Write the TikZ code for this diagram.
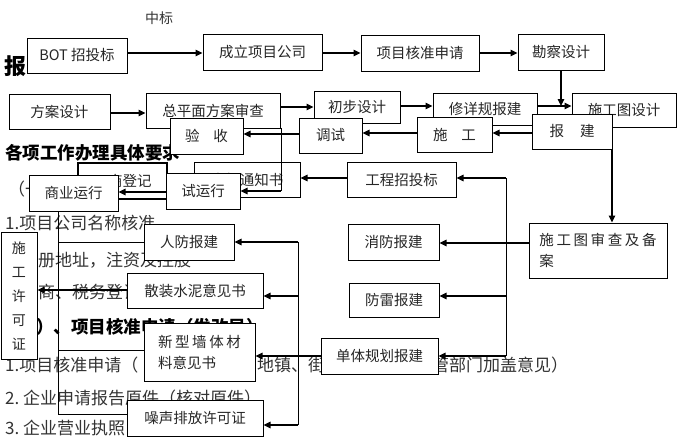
\documentclass[tikz,border=0pt]{standalone}
\usepackage{fontspec}
\setmainfont{Noto Sans CJK SC}
\usetikzlibrary{arrows.meta}
\newcommand\myg{\hspace{2.6pt}}
\tikzset{
  box/.style={draw=black, line width=1pt, fill=white, inner sep=0pt, text=black!85,
    font=\fontsize{14.5}{17}\selectfont, anchor=center},
  arr/.style={line width=1.1pt, -{Triangle[length=7pt,width=6.5pt]}},
  ln/.style={line width=0.9pt},
  bg/.style={anchor=base west, inner sep=0pt, text=black!80, font=\fontsize{17}{17}\selectfont},
  bgb/.style={anchor=base west, inner sep=0pt, text=black, font=\fontsize{17.5}{17.5}\selectfont\bfseries},
}
\begin{document}
\begin{tikzpicture}[x=1pt,y=-1pt]
\useasboundingbox (0,0) rectangle (677,437);
\fill[white] (0,0) rectangle (677,437);

% background document text
\node[bg, font=\fontsize{14}{14}\selectfont] (t0) at (145,23) {中标};
\node[bgb, font=\fontsize{22}{22}\selectfont\bfseries] (t1) at (4,74) {报};
\node[bgb] (t2) at (5,159) {各项工作办理具体要求};
\node[bg] (t3) at (8,195) {（一};
\node[bg] (t4) at (5,229) {1.项目公司名称核准};
\node[bg] (t5) at (38,266) {册地址，注资及控股};
\node[bg] (t6) at (38,298) {商、税务登记};
\node[bgb] (t7) at (36,333) {）、项目核准申请（发改局）};
\node[bg] (t8) at (5,371) {1.项目核准申请（};
\node[bg] (t9) at (257,371) {地镇、街};
\node[bg] (t10) at (432,371) {管部门加盖意见）};
\node[bg] (t11) at (5,404) {2.\ 企业申请报告原件（核对原件）};
\node[bg] (t12) at (5,434) {3.\ 企业营业执照};

% boxes
\node[box, minimum width=100pt, minimum height=35pt] (bot) at (77,55.5) {BOT 招投标};
\node[box, minimum width=119pt, minimum height=36pt] (clgs) at (262.5,52) {成立项目公司};
\node[box, minimum width=118pt, minimum height=36pt] (hzsq) at (420,53) {项目核准申请};
\node[box, minimum width=86pt, minimum height=36pt] (kcsj) at (561,52) {勘察设计};
\node[box, minimum width=101pt, minimum height=35pt] (fasj) at (59.5,111.5) {方案设计};
\node[box, minimum width=134pt, minimum height=35pt] (zpm) at (213,110.5) {总平面方案审查};
\node[box, minimum width=86pt, minimum height=32pt] (cbsj) at (357,107) {初步设计};
\node[box, minimum width=104pt, minimum height=32pt] (xxg) at (485,109) {修详规报建};
\node[box, minimum width=104pt, minimum height=34pt] (sgtsj) at (624,110) {施工图设计};
\node[box, minimum width=73pt, minimum height=36pt] (ys) at (206.5,136) {验\hspace{14pt}收};
\node[box, minimum width=63pt, minimum height=35pt] (ts) at (330.5,135.5) {调试};
\node[box, minimum width=75pt, minimum height=35pt] (sg) at (454.5,134.5) {施\hspace{14pt}工};
\node[box, minimum width=80pt, minimum height=35pt] (bj) at (572,131.5) {报\hspace{16pt}建};
\node[box, line width=1.4pt, minimum width=89pt, minimum height=36pt] (dj) at (122.5,181) {工商登记};
\node[box, minimum width=106pt, minimum height=35pt] (tzs) at (247,179.5) {中标通知书};
\node[box, minimum width=109pt, minimum height=35pt] (gczb) at (401.5,179.5) {工程招投标};
\node[box, minimum width=74pt, minimum height=36pt] (syx) at (203,191) {试运行};
\node[box, minimum width=89pt, minimum height=36pt] (syyx) at (73.5,193) {商业运行};
\node[box, minimum width=91pt, minimum height=36pt] (xf) at (393.5,242) {消防报建};
\node[box, minimum width=138pt, minimum height=55pt, align=left,
      font=\fontsize{14.5}{21}\selectfont] (sgtsc) at (598,250.5)
      {施\myg 工\myg 图\myg 审\myg 查\myg 及\myg 备\\案};
\node[box, minimum width=90pt, minimum height=34pt] (fl) at (394,300) {防雷报建};
\node[box, minimum width=117pt, minimum height=36pt] (dtgh) at (379.5,356) {单体规划报建};
\node[box, minimum width=90pt, minimum height=36pt] (rf) at (189,242) {人防报建};
\node[box, minimum width=136pt, minimum height=35pt] (sz) at (195,290.5) {散装水泥意见书};
\node[box, minimum width=111pt, minimum height=58pt, align=left,
      font=\fontsize{14.5}{21}\selectfont] (xxqt) at (199.5,352)
      {新\myg 型\myg 墙\myg 体\myg 材\\料意见书};
\node[box, minimum width=136pt, minimum height=36pt] (zs) at (195,418) {噪声排放许可证};
\node[box, minimum width=36pt, minimum height=127pt, align=center,
      font=\fontsize{14}{24}\selectfont] (sgxkz) at (19,295.5) {施\\工\\许\\可\\证};

% top row
\draw[arr] (bot.east |- 0,53) -- (clgs.west |- 0,53);
\draw[arr] (clgs.east |- 0,53) -- (hzsq.west |- 0,53);
\draw[arr] (hzsq.east |- 0,53) -- (kcsj.west |- 0,53);
\coordinate (k1) at (561,106);
\draw[arr] (kcsj.south) -- (k1);
% second row
\draw[arr] (fasj.east |- 0,113) -- (zpm.west |- 0,113);
\draw[arr] (zpm.east |- 0,107) -- (cbsj.west |- 0,107);
\draw[arr] (cbsj.east |- 0,106) -- (xxg.west |- 0,106);
\draw[arr] (xxg.east |- 0,106) -- (sgtsj.west |- 0,106);
% third row
\draw[arr] (bj.west |- 0,133) -- (sg.east |- 0,133);
\draw[arr] (sg.west |- 0,133) -- (ts.east |- 0,133);
\draw[arr] (ts.west |- 0,134) -- (ys.east |- 0,134);
\coordinate (c1) at (281,128);
\coordinate (c2) at (281,191);
\draw[ln] (c1) -- (c2);
\draw[arr] (c2) -- (syx.east |- c2);
\draw[arr] (gczb.west |- 0,178) -- (tzs.east |- 0,178);
\draw[arr] (syx.west |- 0,192) -- (syyx.east |- 0,192);
% right side
\coordinate (b1) at (612,149);
\draw[arr] (b1) -- (b1 |- sgtsc.north);
\draw[arr] (sgtsc.west |- 0,243) -- (xf.east |- 0,243);
\coordinate (R1) at (506,178);
\coordinate (R2) at (506,296);
\coordinate (R3) at (506,356);
\draw[ln] (R1) -- (R3);
\draw[arr] (R1) -- (R1 -| gczb.east);
\draw[arr] (R2) -- (R2 -| fl.east);
\draw[arr] (R3) -- (R3 -| dtgh.east);
\draw[arr] (dtgh.west |- 0,356) -- (xxqt.east |- 0,356);
% middle vertical
\coordinate (M1) at (298,242);
\coordinate (M2) at (298,296);
\coordinate (M3) at (298,425);
\draw[ln] (M1) -- (M3);
\draw[arr] (M1) -- (M1 -| rf.east);
\draw[arr] (M2) -- (M2 -| sz.east);
\draw[arr] (M3) -- (M3 -| zs.east);
% left vertical
\coordinate (L0) at (58,211);
\coordinate (L1) at (58,242);
\coordinate (L2) at (58,350);
\coordinate (L3) at (58,414);
\draw[ln] (L0) -- (L3);
\draw[ln] (L1) -- (L1 -| rf.west);
\draw[ln] (L2) -- (L2 -| xxqt.west);
\draw[ln] (L3) -- (L3 -| zs.west);
\draw[arr] (sz.west |- 0,290) -- (sgxkz.east |- 0,290);
\end{tikzpicture}
\end{document}
